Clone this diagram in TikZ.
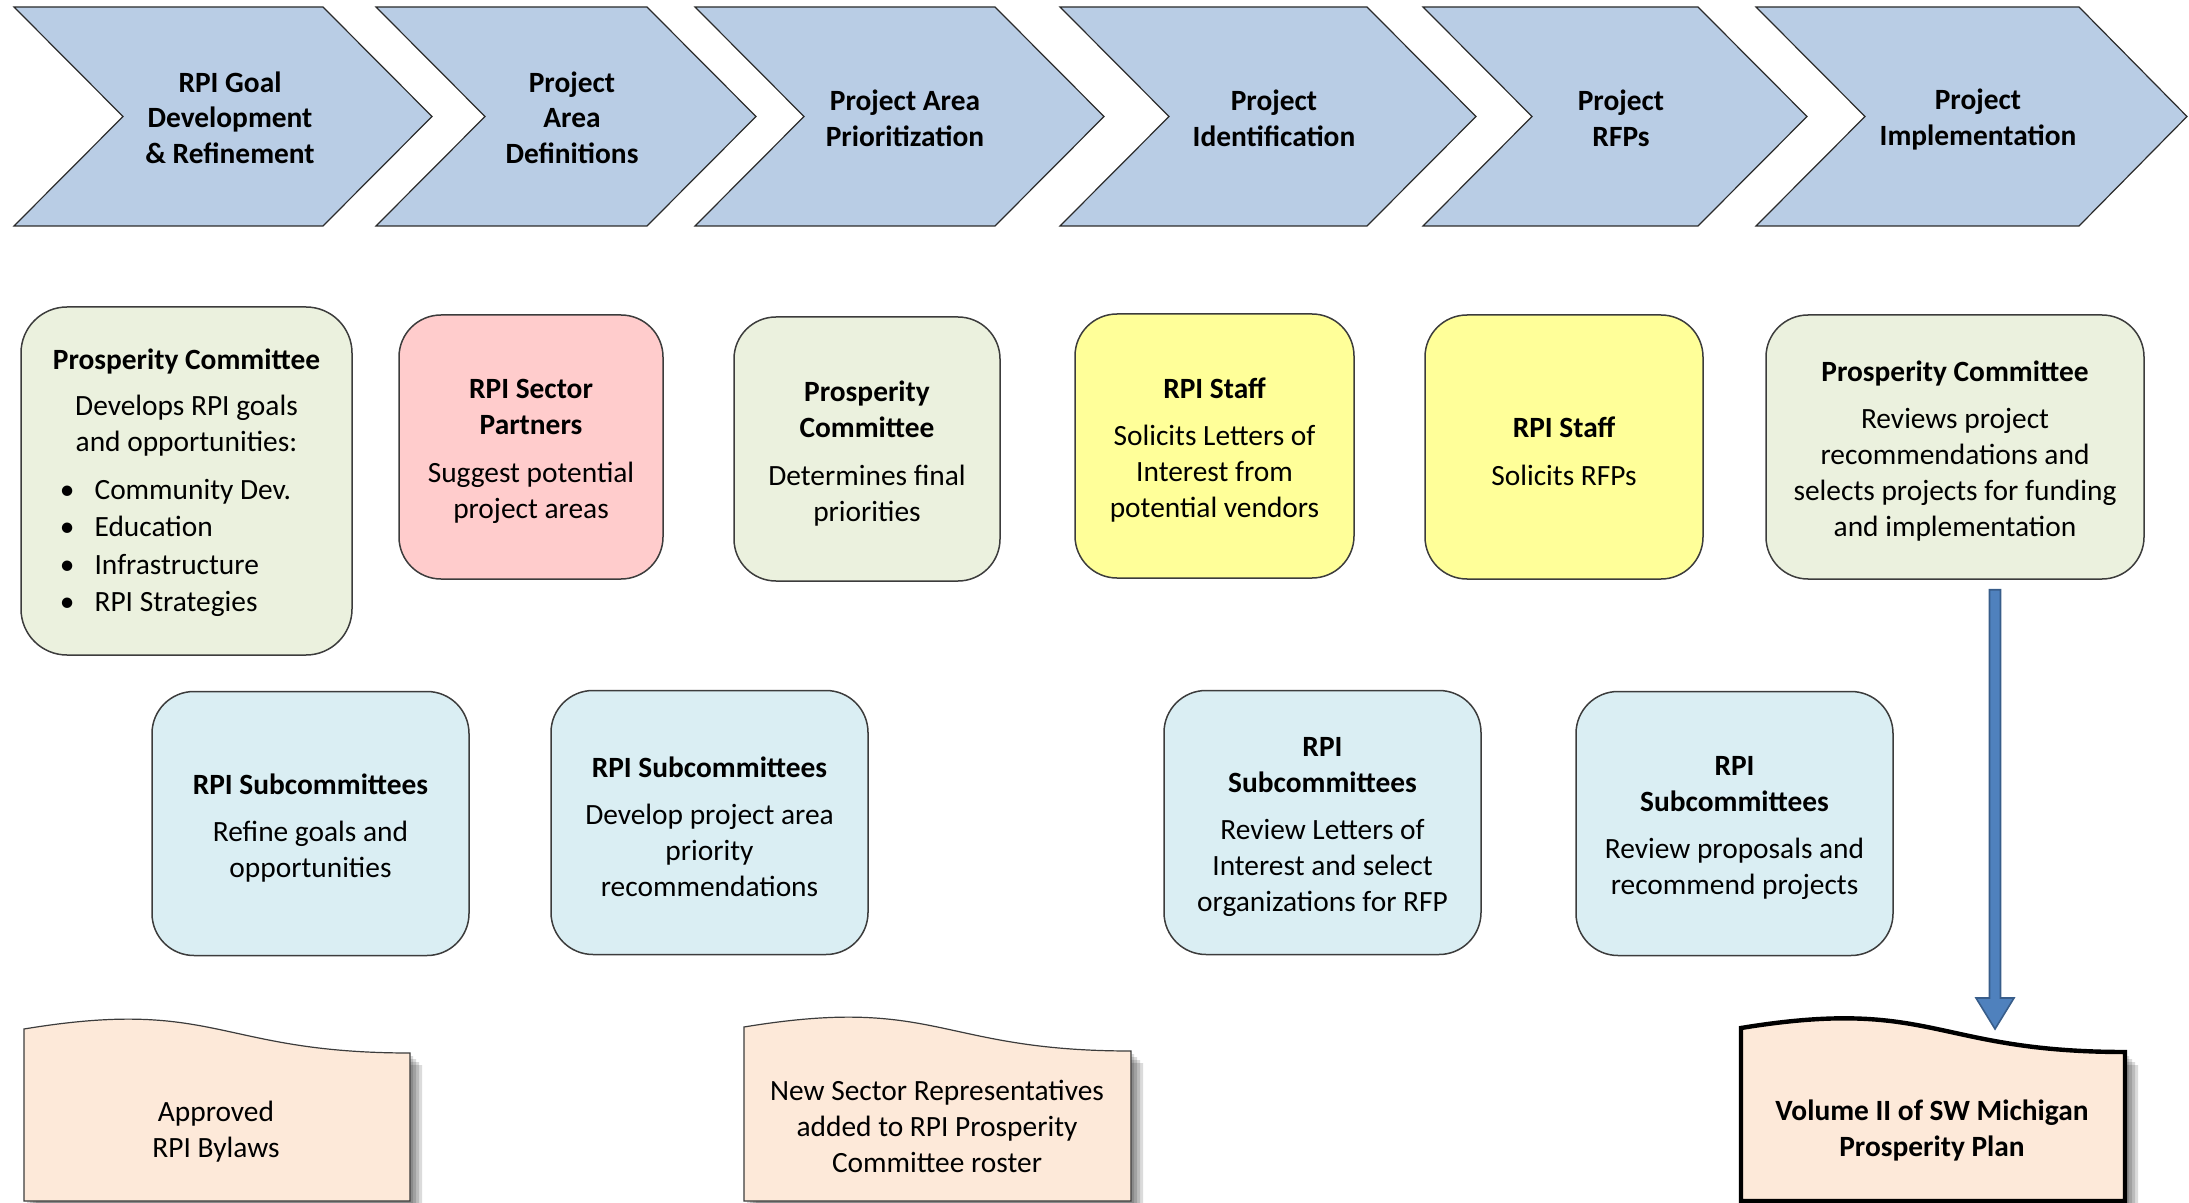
\documentclass[tikz,border=0pt]{standalone}
\usepackage{fontspec}
\setmainfont{Carlito}
\usetikzlibrary{calc}
\definecolor{chevfill}{HTML}{B9CDE5}
\definecolor{chevline}{HTML}{2B2B2B}
\definecolor{cgreen}{HTML}{EBF1DE}
\definecolor{cpink}{HTML}{FFCCCC}
\definecolor{cyellow}{HTML}{FFFF99}
\definecolor{cblue}{HTML}{DAEEF3}
\definecolor{cpeach}{HTML}{FDE9D9}
\definecolor{boxline}{HTML}{3C3C3C}
\definecolor{arrowfill}{HTML}{4F81BD}
\definecolor{arrowline}{HTML}{385D8A}
\newcommand\topstrut[1][14.5pt]{\rule{0pt}{#1}}
\begin{document}
\begin{tikzpicture}[x=0.5pt,y=-0.5pt,
  txt/.style={font=\fontsize{14.7}{18}\selectfont, align=center, inner sep=0pt},
  chevlabel/.style={txt, font=\fontsize{14.7}{17.8}\selectfont\bfseries},
  chev/.style={fill=chevfill, draw=chevline, line width=0.6pt, line join=miter},
  rbox/.style={txt, draw=boxline, line width=0.75pt, rounded corners=21pt, minimum height=132pt},
  wide/.style={minimum width=158.5pt},
  docline/.style={fill=cpeach, draw=boxline, line width=0.6pt},
  docshadow/.style={fill=black, opacity=0.14},
  bluearrow/.style={fill=arrowfill, draw=arrowline, line width=0.8pt, line join=miter}
]
\useasboundingbox (0,0) rectangle (2189,1203);

% ---------- chevrons ----------
\draw[chev] (14,7) -- (323,7) -- (432,116.5) -- (323,226) -- (14,226) -- (123,116.5) -- cycle;
\draw[chev] (376,7) -- (647,7) -- (756,116.5) -- (647,226) -- (376,226) -- (485,116.5) -- cycle;
\draw[chev] (695,7) -- (995,7) -- (1104,116.5) -- (995,226) -- (695,226) -- (804,116.5) -- cycle;
\draw[chev] (1060,7) -- (1367,7) -- (1476,116.5) -- (1367,226) -- (1060,226) -- (1169,116.5) -- cycle;
\draw[chev] (1423,7) -- (1698,7) -- (1807,116.5) -- (1698,226) -- (1423,226) -- (1532,116.5) -- cycle;
\draw[chev] (1756,7) -- (2079,7) -- (2187,116.5) -- (2079,226) -- (1756,226) -- (1865,116.5) -- cycle;

\node[chevlabel] (C1) at (230,117.5) {RPI Goal\\Development\\\& Refinement};
\node[chevlabel] (C2) at (572,117.5) {Project\\Area\\Definitions};
\node[chevlabel] (C3) at (905,118) {Project Area\\Prioritization};
\node[chevlabel] (C4) at (1274,118) {Project\\Identification};
\node[chevlabel] (C5) at (1621,118) {Project\\RFPs};
\node[chevlabel] (C6) at (1978,119.5) {Project\\Implementation};

% ---------- first row of boxes ----------
\node[rbox, fill=cgreen, minimum width=165.5pt, minimum height=174pt, rounded corners=23pt] (B1) at (186.5,481)
  {\topstrut[15pt]\textbf{Prosperity Committee}\\[5pt]Develops RPI goals\\and opportunities:\\[6pt]
   \hspace*{-11pt}{\renewcommand\arraystretch{1.035}\begin{tabular}[t]{@{}l@{\hspace{10pt}}l@{}}
   \textbullet & Community Dev.\\ \textbullet & Education\\ \textbullet & Infrastructure\\ \textbullet & RPI Strategies
   \end{tabular}}};
\node[rbox, fill=cpink, minimum width=132pt] (B2) at (531,447)
  {\topstrut\textbf{RPI Sector}\\\textbf{Partners}\\[6pt]Suggest potential\\project areas};
\node[rbox, fill=cgreen, minimum width=133pt] (B3) at (867,449)
  {\topstrut\textbf{Prosperity}\\\textbf{Committee}\\[6pt]Determines final\\priorities};
\node[rbox, fill=cyellow, minimum width=139.5pt] (B4) at (1214.5,446)
  {\topstrut\textbf{RPI Staff}\\[5.5pt]Solicits Letters of\\Interest from\\potential vendors};
\node[rbox, fill=cyellow, minimum width=139pt] (B5) at (1564,447)
  {\topstrut\textbf{RPI Staff}\\[6pt]Solicits RFPs};
\node[rbox, fill=cgreen, minimum width=189pt] (B6) at (1955,447)
  {\topstrut\textbf{Prosperity Committee}\\[5.5pt]Reviews project\\recommendations and\\selects projects for funding\\and implementation};

% ---------- second row of boxes ----------
\node[rbox, wide, fill=cblue] (B7) at (310.5,823.5)
  {\topstrut\textbf{RPI Subcommittees}\\[5.5pt]Refine goals and\\opportunities};
\node[rbox, wide, fill=cblue] (B8) at (709.5,822.5)
  {\topstrut\textbf{RPI Subcommittees}\\[5.5pt]Develop project area\\priority\\recommendations};
\node[rbox, wide, fill=cblue] (B9) at (1322.5,822.5)
  {\topstrut\textbf{RPI}\\\textbf{Subcommittees}\\[5.5pt]Review Letters of\\Interest and select\\organizations for RFP};
\node[rbox, wide, fill=cblue] (B10) at (1734.5,823.5)
  {\topstrut\textbf{RPI}\\\textbf{Subcommittees}\\[5.5pt]Review proposals and\\recommend projects};

% ---------- documents ----------
\foreach \s in {3,6,9,12}
  \fill[docshadow, shift={(\s,\s)}] (24,1201) -- (24,1029) .. controls (217,997) and (217,1053) .. (410,1053) -- (410,1201) -- cycle;
\draw[docline] (24,1201) -- (24,1029) .. controls (217,997) and (217,1053) .. (410,1053) -- (410,1201) -- cycle;
\node[txt] (D1) at (216,1132) {Approved\\RPI Bylaws};

\foreach \s in {3,6,9,12}
  \fill[docshadow, shift={(\s,\s)}] (744,1201) -- (744,1027) .. controls (937.5,995) and (937.5,1051) .. (1131,1051) -- (1131,1201) -- cycle;
\draw[docline] (744,1201) -- (744,1027) .. controls (937.5,995) and (937.5,1051) .. (1131,1051) -- (1131,1201) -- cycle;
\node[txt] (D2) at (937,1126) {New Sector Representatives\\added to RPI Prosperity\\Committee roster};

\foreach \s in {4,7,10,13}
  \fill[docshadow, shift={(\s,\s)}] (1741,1201) -- (1741,1028) .. controls (1933,996.5) and (1933,1052) .. (2125,1052) -- (2125,1201) -- cycle;
\draw[fill=cpeach, draw=black, line width=2.2pt] (1741,1201) -- (1741,1028) .. controls (1933,996.5) and (1933,1052) .. (2125,1052) -- (2125,1201) -- cycle;
\node[txt, font=\fontsize{14.7}{18}\selectfont\bfseries] (D3) at (1932,1130) {Volume II of SW Michigan\\Prosperity Plan};

% ---------- arrow ----------
\coordinate (A0) at ($(B6.south)+(40,10)$);
\coordinate (A1) at (1995,1029);
\draw[bluearrow] ($(A0)+(-5.5,0)$) -- ($(A0)+(5.5,0)$) -- ($(A1)+(5.5,-31)$) -- ($(A1)+(19,-31)$) -- (A1)
  -- ($(A1)+(-19,-31)$) -- ($(A1)+(-5.5,-31)$) -- cycle;
\end{tikzpicture}
\end{document}
